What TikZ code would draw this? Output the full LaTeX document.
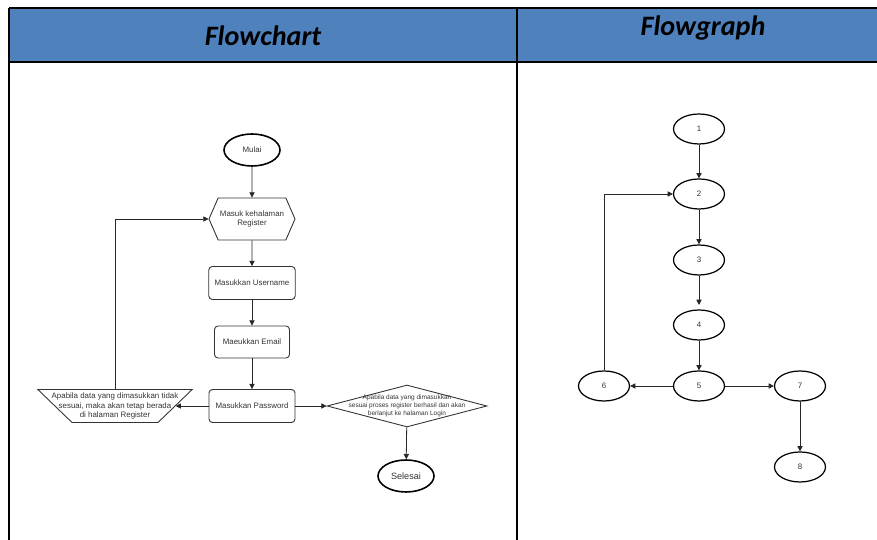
\documentclass[tikz,border=0pt]{standalone}
\usepackage{fontspec}
\setmainfont{Liberation Sans}
\newfontfamily\hdfont{Carlito}
\usepackage{tikz}
\usetikzlibrary{arrows.meta,shapes.geometric,shapes.symbols}
\definecolor{HeadBlue}{HTML}{4F81BD}
\definecolor{InkGray}{HTML}{333333}

\begin{document}
\begin{tikzpicture}[x=0.02cm,y=-0.02cm,>={Triangle[length=3pt,width=3pt]},
 every node/.style={font=\fontsize{4.5}{5.4}\selectfont,text=InkGray},
 terminal/.style={ellipse,draw=black,line width=.9pt,minimum width=1.12cm,minimum height=.64cm,inner sep=0pt},
 page/.style={signal,signal to=west and east,signal pointer angle=133,draw=InkGray,line width=.5pt,
 minimum width=1.72cm,minimum height=.84cm,inner sep=1pt,align=center},
 stepbox/.style={draw=InkGray,line width=.5pt,rounded corners=2pt,minimum width=1.72cm,minimum height=.66cm,align=center},
 manual/.style={trapezium,shape border rotate=180,trapezium angle=44,draw=InkGray,line width=.5pt,
 inner sep=0pt,text width=1.72cm,text height=.33cm,text depth=.33cm},
 decision/.style={diamond,draw=InkGray,line width=.5pt,minimum width=3.2cm,minimum height=.84cm,inner sep=0pt},
 vertex/.style={ellipse,draw=black,line width=.7pt,minimum width=1.02cm,minimum height=.6cm,inner sep=0pt},
 link/.style={->,draw=black!85,line width=.45pt},
 grid/.style={draw=black,line width=1pt}]
 \useasboundingbox (0,0) rectangle (877,540);

 % table head
 \fill[HeadBlue] (9,8) rectangle (877,62);
 \draw[grid] (9,8) -- (877,8);
 \draw[grid,line width=1.4pt] (9,62) -- (877,62);
 \draw[grid] (9,8) -- (9,540);
 \draw[grid] (517,8) -- (517,540);
 \node[font=\hdfont\bfseries\itshape\fontsize{16}{18}\selectfont,text=black] (hleft) at (263,36) {Flowchart};
 \node[font=\hdfont\bfseries\itshape\fontsize{16}{18}\selectfont,text=black] (hright) at (703,28) {Flowgraph};

 % flowchart
 \node[terminal] (mulai) at (252,150) {Mulai};
 \node[page] (reg) at (252,219) {Masuk kehalaman\\Register};
 \node[stepbox] (user) at (252,283) {Masukkan Username};
 \node[stepbox,minimum width=1.5cm,minimum height=.64cm] (mail) at (252,342) {Maeukkan Email};
 \node[stepbox] (pass) at (252,406) {Masukkan Password};
 \node[manual,label={[align=center,text=InkGray]center:Apabila data yang dimasukkan tidak\\sesuai, maka akan tetap berada\\di halaman Register}] (fail) at (115,406) {};
 \node[decision,label={[font=\fontsize{3.7}{4.6}\selectfont,align=center,text=InkGray]center:Apabila data yang dimasukkan\\sesuai proses register berhasil dan akan\\berlanjut ke halaman Login}] (ok) at (407,406) {};
 \node[terminal] (selesai) at (406,476) {\fontsize{5.2}{6}\selectfont Selesai};
 \draw[link] (mulai) -- (reg);
 \draw[link] (reg) -- (user);
 \draw[link] (user) -- (mail);
 \draw[link] (mail) -- (pass);
 \draw[link] (pass) -- (fail);
 \draw[link] (pass) -- (ok);
 \draw[link] (ok) -- (selesai);
 \draw[link] (fail.north) |- (reg.west);

 % flowgraph
 \node[vertex] (v1) at (699,129) {1};
 \node[vertex] (v2) at (699,194) {2};
 \node[vertex] (v3) at (699,260) {3};
 \node[vertex] (v4) at (699,325) {4};
 \node[vertex] (v5) at (699,386) {5};
 \node[vertex] (v6) at (604,386) {6};
 \node[vertex] (v7) at (800,386) {7};
 \node[vertex] (v8) at (800,467) {8};
 \draw[link] (v1) -- (v2);
 \draw[link] (v2) -- (v3);
 \draw[link,shorten >=2.5pt] (v3) -- (v4);
 \draw[link] (v4) -- (v5);
 \draw[link] (v5) -- (v6);
 \draw[link] (v5) -- (v7);
 \draw[link] (v7) -- (v8);
 \draw[link] (v6.north) |- (v2.west);
\end{tikzpicture}
\end{document}
